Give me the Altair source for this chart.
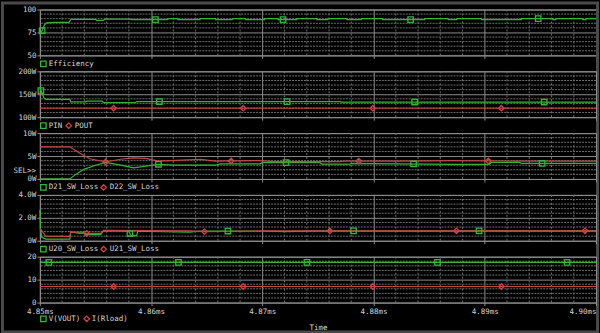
import altair as alt
import pandas as pd

# ---------------- data (time in ms, values in panel units) ----------------
eff = [(4.8500, 72), (4.8502, 77), (4.8504, 83), (4.8506, 85.5), (4.8514, 86), (4.8526, 86),
       (4.8528, 89.2), (4.8550, 89.2), (4.8551, 88.2), (4.8557, 88.2), (4.8559, 89.6), (4.8581, 89.6),
       (4.8582, 89), (4.86149, 89), (4.8615, 90), (4.8624, 90), (4.86241, 89),
       (4.86439, 89), (4.8644, 90), (4.8658, 90), (4.86581, 89),
       (4.86729, 89), (4.8673, 90), (4.8685, 90), (4.86851, 89),
       (4.87019, 89), (4.8702, 90), (4.8714, 90), (4.87141, 89),
       (4.87309, 89), (4.8731, 90), (4.8749, 90), (4.87491, 89),
       (4.87589, 89), (4.8759, 90), (4.8776, 90), (4.87761, 89),
       (4.87889, 89), (4.8789, 90), (4.8808, 90), (4.88081, 89),
       (4.88459, 89), (4.8846, 90), (4.8867, 90), (4.88671, 89),
       (4.88749, 89), (4.8875, 90), (4.8897, 90), (4.88971, 89),
       (4.89329, 89), (4.8933, 90), (4.8961, 90), (4.89611, 89),
       (4.89639, 89), (4.8964, 90), (4.8988, 90), (4.89881, 89),
       (4.89909, 89), (4.8991, 90), (4.9000, 90)]
eff_marks = [(4.8502, 77), (4.86039, 89), (4.87186, 89), (4.88333, 89), (4.89480, 90)]

pin = [(4.8500, 162), (4.8501, 158), (4.85036, 142), (4.85054, 139), (4.85269, 139), (4.85278, 133.5),
       (4.8541, 133.5), (4.8542, 135), (4.8556, 135), (4.8557, 132), (4.8586, 132), (4.8587, 134),
       (4.8770, 134), (4.8771, 133), (4.9000, 133)]
pout = [(4.8500, 119.5), (4.9000, 119.5)]
pin_marks = [(4.85009, 158), (4.86075, 134), (4.87222, 134), (4.88369, 133), (4.89534, 133)]
pout_marks = [(4.85663, 119.5), (4.86828, 119.5), (4.87993, 119.5), (4.89149, 119.5)]

d21 = [(4.8500, 0), (4.85269, 0), (4.85323, 1.0), (4.85394, 2.1), (4.85502, 3.0), (4.85591, 3.6),
       (4.85726, 3.0), (4.85842, 2.4), (4.86066, 3.2), (4.86219, 3.0), (4.86577, 3.0), (4.86622, 3.3),
       (4.86980, 3.3), (4.86998, 3.55), (4.87518, 3.55), (4.87536, 3.25), (4.87787, 3.25),
       (4.87805, 3.4), (4.88235, 3.3), (4.88728, 3.2), (4.89041, 3.2), (4.89059, 3.6),
       (4.89310, 3.6), (4.89328, 3.4), (4.9000, 3.4)]
d22 = [(4.8500, 7.0), (4.85269, 7.0), (4.8536, 5.6), (4.8545, 4.4), (4.85591, 3.7), (4.85726, 4.3),
       (4.85842, 4.6), (4.8595, 4.5), (4.86066, 3.9), (4.86219, 4.05), (4.86443, 4.3), (4.86577, 3.9),
       (4.86980, 4.0), (4.8710, 3.8), (4.8769, 3.8), (4.8775, 3.9), (4.88235, 3.9), (4.8870, 4.0),
       (4.8930, 3.9), (4.9000, 3.9)]
d21_marks = [(4.86066, 3.2), (4.87213, 3.55), (4.88360, 3.27), (4.89516, 3.4)]
d22_marks = [(4.85591, 3.7), (4.86720, 3.94), (4.87867, 3.9), (4.89032, 3.94)]

u20 = [(4.8500, 2.7), (4.85005, 1.0), (4.85018, 0.3), (4.85054, 0.15), (4.85269, 0.15), (4.85278, 0.74),
       (4.85394, 0.74), (4.8541, 0.53), (4.85547, 0.53), (4.85573, 0.89), (4.8580, 0.83), (4.8582, 0.44),
       (4.8587, 0.44), (4.8588, 0.83), (4.8635, 0.74), (4.8644, 0.85), (4.8700, 0.85), (4.8720, 0.8),
       (4.8750, 0.87), (4.8830, 0.85), (4.8900, 0.87), (4.9000, 0.87)]
u21 = [(4.8500, 1.1), (4.85054, 0.38), (4.85269, 0.38), (4.85278, 0.8), (4.8535, 0.65), (4.85547, 0.65),
       (4.85573, 0.9), (4.8635, 0.86), (4.8648, 0.8), (4.8700, 0.86), (4.9000, 0.87)]
u20_marks = [(4.8581, 0.63), (4.86691, 0.85), (4.87820, 0.86), (4.88949, 0.87)]
u21_marks = [(4.85421, 0.65), (4.86479, 0.8), (4.87607, 0.86), (4.88745, 0.87), (4.89901, 0.87)]

vout = [(4.8500, 17.5), (4.9000, 17.5)]
iload = [(4.8500, 7.0), (4.9000, 7.0)]
vout_marks = [(4.85081, 17.5), (4.86246, 17.5), (4.87401, 17.5), (4.88575, 17.5), (4.89740, 17.5)]
iload_marks = [(4.85663, 7.0), (4.86828, 7.0), (4.87993, 7.0), (4.89149, 7.0)]

x_major = [4.85, 4.86, 4.87, 4.88, 4.89, 4.90]
x_minor = [round(a + k * 0.002, 4) for a in x_major[:-1] for k in range(1, 5)]

# ---------------- style ----------------
W, H = 558, 46
GREEN = "#34b634"
RED = "#c84646"
MAJ = "#8c8c8c"
MINC = "#6e6e6e"
TXT = "#d4d4d4"
FONT = "DejaVu Sans Mono"
FS = 7.5

xscale = alt.Scale(domain=[4.85, 4.90], nice=False, zero=False)


def df_of(pts):
    return pd.DataFrame(pts, columns=["t", "v"])


def panel(lines, marks, domain, majors, minors, ylabel, legend, bottom=False, extra=None, leg_y=H + 8.5):
    yscale = alt.Scale(domain=domain, nice=False, zero=False)
    if bottom:
        xaxis = alt.Axis(values=x_major, labelExpr="format(datum.value, '.2f') + 'ms'", grid=True,
                         gridColor=MAJ, tickSize=3, tickColor=MAJ, labelPadding=2, domain=False,
                         labelOverlap=False,
                         labelAlign={"condition": {"test": "datum.value > 4.895", "value": "right"},
                                     "value": "center"},
                         title="Time", titlePadding=9)
    else:
        xaxis = alt.Axis(values=x_major, labels=False, grid=True, gridColor=MAJ, tickSize=3,
                         tickColor=MAJ, domain=False, title=None)
    yaxis = alt.Axis(values=majors, labelExpr=ylabel, grid=True, gridColor=MAJ, tickSize=3,
                     tickColor=MAJ, labelPadding=1, domain=False, title=None, labelBaseline="middle")
    X = alt.X("t:Q", scale=xscale, axis=xaxis)
    Y = alt.Y("v:Q", scale=yscale, axis=yaxis)

    layers = []
    layers.append(alt.Chart(pd.DataFrame({"t": x_minor})).mark_rule(
        color=MINC, strokeDash=[2, 2], strokeWidth=1).encode(x=X))
    layers.append(alt.Chart(pd.DataFrame({"v": minors})).mark_rule(
        color=MINC, strokeDash=[2, 1], strokeWidth=1).encode(y=Y))
    for pts, col in lines:
        layers.append(alt.Chart(df_of(pts)).mark_line(color=col, strokeWidth=1.2).encode(x=X, y=Y))
    for pts, col, shape in marks:
        layers.append(alt.Chart(df_of(pts)).mark_point(
            shape=shape, filled=False, color=col, size=30, strokeWidth=1.3, opacity=1).encode(x=X, y=Y))
    one = pd.DataFrame({"a": [0]})
    for item in legend:
        if item[0] == "sq" or item[0] == "di":
            col = GREEN if item[0] == "sq" else RED
            shp = "square" if item[0] == "sq" else "diamond"
            layers.append(alt.Chart(one).mark_point(shape=shp, filled=False, color=col, size=30,
                                                    strokeWidth=1.3, opacity=1).encode(
                x=alt.value(item[1]), y=alt.value(leg_y)))
        else:
            layers.append(alt.Chart(one).mark_text(
                text=item[2], align="left", baseline="middle", font=FONT, fontSize=FS, color=TXT).encode(
                x=alt.value(item[1]), y=alt.value(leg_y)))
    if extra is not None:
        layers.extend(extra)
    return alt.layer(*layers).properties(width=W, height=H)


one = pd.DataFrame({"a": [0]})
frame = alt.Chart(one).mark_rect(fill="transparent", stroke="#4a4a4a", strokeWidth=3).encode(
    x=alt.value(-37.5), x2=alt.value(559.5), y=alt.value(-6.5), y2=alt.value(323.5))
sel = alt.Chart(one).mark_text(text="SEL>>", align="right", baseline="middle", font=FONT,
                               fontSize=FS, color=TXT).encode(x=alt.value(-4), y=alt.value(38))

p1 = panel([(eff, GREEN)], [(eff_marks, GREEN, "square")], [50, 100], [50, 75, 100],
           [55, 60, 65, 70, 80, 85, 90, 95], "datum.value",
           [("sq", 3.5), ("t", 9, "Efficiency")], extra=[frame])
p2 = panel([(pin, GREEN), (pout, RED)], [(pin_marks, GREEN, "square"), (pout_marks, RED, "diamond")],
           [100, 200], [100, 150, 200], [110, 120, 130, 140, 160, 170, 180, 190],
           "datum.value + 'W'",
           [("sq", 3.5), ("t", 9, "PIN"), ("di", 29), ("t", 35, "POUT")])
p3 = panel([(d21, GREEN), (d22, RED)], [(d21_marks, GREEN, "square"), (d22_marks, RED, "diamond")],
           [0, 10], [0, 5, 10], [1, 2, 3, 4, 6, 7, 8, 9], "datum.value + 'W'",
           [("sq", 3.5), ("t", 9, "D21_SW_Loss"), ("di", 64), ("t", 70, "D22_SW_Loss")], extra=[sel])
p4 = panel([(u20, GREEN), (u21, RED)], [(u20_marks, GREEN, "square"), (u21_marks, RED, "diamond")],
           [0, 4], [0, 2, 4], [0.4, 0.8, 1.2, 1.6, 2.4, 2.8, 3.2, 3.6],
           "datum.value == 0 ? '0W' : format(datum.value, '.1f') + 'W'",
           [("sq", 3.5), ("t", 9, "U20_SW_Loss"), ("di", 64), ("t", 70, "U21_SW_Loss")])
p5 = panel([(vout, GREEN), (iload, RED)], [(vout_marks, GREEN, "square"), (iload_marks, RED, "diamond")],
           [0, 20], [0, 10, 20], [2, 4, 6, 8, 12, 14, 16, 18], "datum.value",
           [("sq", 3.5), ("t", 9, "V(VOUT)"), ("di", 47), ("t", 52, "I(Rload)")],
           bottom=True, leg_y=H + 16.3)

chart = alt.vconcat(p1, p2, p3, p4, p5, spacing=16, bounds="flush").properties(
    padding=0, background="#000000"
).configure_view(
    stroke="#9a9a9a", strokeWidth=1, fill="#000000"
).configure_axis(
    labelFont=FONT, labelFontSize=FS, labelColor=TXT,
    titleFont=FONT, titleFontSize=FS, titleColor=TXT, titleFontWeight="normal",
    gridWidth=1
)

chart.save("out.html", embed_options={"renderer": "svg", "actions": False})
